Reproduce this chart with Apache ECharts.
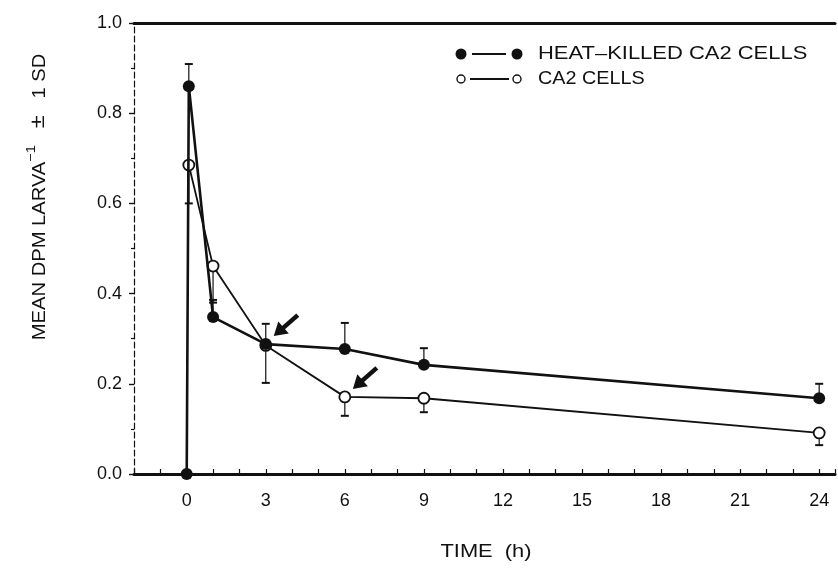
<!DOCTYPE html>
<html>
<head>
<meta charset="utf-8">
<script src="https://cdn.jsdelivr.net/npm/echarts@6/dist/echarts.min.js"></script>
<style>
  html, body { margin: 0; padding: 0; background: #fff; }
  #chart { width: 838px; height: 568px; }
</style>
</head>
<body>
<div id="chart"></div>
<script>
// Sampling times (h) and mean DPM per larva
const heatKilledTimes = [0, 0.08, 1, 3, 6, 9, 24];
const heatKilledMean  = [0, 0.86, 0.348, 0.288, 0.277, 0.242, 0.168];
const heatKilledSd    = [0, 0.049, 0.038, 0.045, 0.058, 0.037, 0.032];

const ca2Times = [0.08, 1, 3, 6, 9, 24];
const ca2Mean  = [0.685, 0.461, 0.285, 0.171, 0.168, 0.091];
const ca2Sd    = [0.085, 0.081, 0.083, 0.042, 0.031, 0.027];

// Points flagged with an arrow: [series, index]
const arrowed = [['heat', 3], ['ca2', 3]];

const yTicks = [0, 0.2, 0.4, 0.6, 0.8, 1.0];
const xLabelStep = 3;

const INK = '#111';
const FONT = '"Liberation Sans", Arial, sans-serif';

const heatData = heatKilledTimes.map((t, i) => [t, heatKilledMean[i]]);
const ca2Data = ca2Times.map((t, i) => [t, ca2Mean[i]]);
const heatErr = heatKilledTimes.map((t, i) => [t, heatKilledMean[i], heatKilledSd[i]]);
const ca2Err = ca2Times.map((t, i) => [t, ca2Mean[i], ca2Sd[i]]);
const arrowData = arrowed.map(([s, i]) => s === 'heat' ? [heatKilledTimes[i], heatKilledMean[i]] : [ca2Times[i], ca2Mean[i]]);

// SD bar drawn upward (dir = 1) or downward (dir = -1) with a short cap
function errorBar(dir) {
  return function (params, api) {
    const x = api.value(0), y = api.value(1), sd = api.value(2);
    if (!sd) return null;
    const p = api.coord([x, y]);
    const q = api.coord([x, y + dir * sd]);
    const cap = 4;
    return {
      type: 'group',
      children: [
        { type: 'line', shape: { x1: p[0], y1: p[1], x2: q[0], y2: q[1] }, style: { stroke: INK, lineWidth: 1.2 } },
        { type: 'line', shape: { x1: q[0] - cap, y1: q[1], x2: q[0] + cap, y2: q[1] }, style: { stroke: INK, lineWidth: 2 } }
      ]
    };
  };
}

// Bold arrow pointing down-left at a data point
function arrowMark(params, api) {
  const p = api.coord([api.value(0), api.value(1)]);
  const head = [p[0] + 8, p[1] - 8];
  const tail = [p[0] + 32, p[1] - 29];
  let dx = head[0] - tail[0], dy = head[1] - tail[1];
  const len = Math.hypot(dx, dy); dx /= len; dy /= len;
  const hl = 13, hw = 8;
  const base = [head[0] - dx * hl, head[1] - dy * hl];
  const nx = -dy, ny = dx;
  return {
    type: 'group',
    children: [
      { type: 'line', shape: { x1: tail[0], y1: tail[1], x2: base[0] + dx * 2, y2: base[1] + dy * 2 }, style: { stroke: INK, lineWidth: 4.5 } },
      { type: 'polygon', shape: { points: [head, [base[0] + nx * hw, base[1] + ny * hw], [base[0] - nx * hw, base[1] - ny * hw]] }, style: { fill: INK } }
    ]
  };
}

const chart = echarts.init(document.getElementById('chart'), null, { renderer: 'canvas' });

chart.setOption({
  animation: false,
  backgroundColor: '#fff',
  grid: { left: 134, right: 0, top: 23, bottom: 94, containLabel: false },
  xAxis: [
    {
      type: 'value', min: -2, max: 24.6, interval: 1,
      axisLine: { show: true, onZero: false, lineStyle: { color: INK, width: 3 } },
      axisTick: { show: true, inside: true, length: 5, lineStyle: { color: INK, width: 1.2 } },
      axisLabel: {
        color: INK, fontFamily: FONT, fontSize: 18, margin: 18,
        formatter: v => (v >= 0 && Math.abs(v % xLabelStep) < 1e-9) ? String(v) : ''
      },
      splitLine: { show: false }
    },
    {
      type: 'value', position: 'top', min: -2, max: 24.6, interval: 1,
      axisLine: { show: true, onZero: false, lineStyle: { color: INK, width: 3 } },
      axisTick: { show: false }, axisLabel: { show: false }, splitLine: { show: false }
    }
  ],
  yAxis: {
    type: 'value', min: yTicks[0], max: yTicks[yTicks.length - 1], interval: 0.2,
    axisLine: { show: true, onZero: false, lineStyle: { color: INK, width: 1.2, type: [6, 3] } },
    axisTick: { show: true, inside: false, length: 5, lineStyle: { color: INK, width: 1.4 } },
    minorTick: { show: true, splitNumber: 2, length: 3, lineStyle: { color: INK, width: 1.2 } },
    axisLabel: { color: INK, fontFamily: FONT, fontSize: 18, margin: 12, formatter: v => v.toFixed(1) },
    splitLine: { show: false }
  },
  series: [
    {
      name: 'heat-err', type: 'custom', renderItem: errorBar(1), data: heatErr, z: 1,
      encode: { x: 0, y: 1 }, silent: true
    },
    {
      name: 'ca2-err', type: 'custom', renderItem: errorBar(-1), data: ca2Err, z: 1,
      encode: { x: 0, y: 1 }, silent: true
    },
    {
      name: 'CA2 CELLS', type: 'line', data: ca2Data, z: 3,
      symbol: 'circle', symbolSize: 11,
      lineStyle: { color: INK, width: 1.8 },
      itemStyle: { color: '#fff', borderColor: INK, borderWidth: 1.8 }
    },
    {
      name: 'HEAT-KILLED CA2 CELLS', type: 'line', data: heatData, z: 4,
      symbol: 'circle', symbolSize: 12,
      lineStyle: { color: INK, width: 2.6 },
      itemStyle: { color: INK, borderColor: INK, borderWidth: 0 }
    },
    {
      name: 'arrows', type: 'custom', renderItem: arrowMark, data: arrowData, z: 5,
      encode: { x: 0, y: 1 }, silent: true
    }
  ],
  graphic: [
    // legend
    { type: 'circle', shape: { cx: 461, cy: 54, r: 5.5 }, style: { fill: INK } },
    { type: 'line', shape: { x1: 472, y1: 54, x2: 506, y2: 54 }, style: { stroke: INK, lineWidth: 1.8 } },
    { type: 'circle', shape: { cx: 517, cy: 54, r: 5.5 }, style: { fill: INK } },
    { type: 'text', x: 538, y: 54, scaleX: 1.22,
      style: { text: 'HEAT–KILLED CA2 CELLS', fill: INK, font: '18px ' + FONT, textVerticalAlign: 'middle', textAlign: 'left' } },
    { type: 'circle', shape: { cx: 461, cy: 79, r: 4 }, style: { fill: '#fff', stroke: INK, lineWidth: 1.4 } },
    { type: 'line', shape: { x1: 470, y1: 79, x2: 509, y2: 79 }, style: { stroke: INK, lineWidth: 1.8 } },
    { type: 'circle', shape: { cx: 517, cy: 79, r: 4 }, style: { fill: '#fff', stroke: INK, lineWidth: 1.4 } },
    { type: 'text', x: 538, y: 79, scaleX: 1.1,
      style: { text: 'CA2 CELLS', fill: INK, font: '18px ' + FONT, textVerticalAlign: 'middle', textAlign: 'left' } },
    // axis titles
    { type: 'text', x: 486, y: 552, scaleX: 1.15,
      style: { text: 'TIME  (h)', fill: INK, font: '19px ' + FONT, textAlign: 'center', textVerticalAlign: 'middle' } },
    { type: 'text', x: 37, y: 197, rotation: Math.PI / 2, scaleX: 1.12,
      style: {
        text: '{a|MEAN DPM LARVA}{s|−1}{a|   }{b|±}{a|   1 SD}',
        textAlign: 'center', textVerticalAlign: 'middle',
        rich: {
          a: { fontFamily: FONT, fontSize: 18, fill: INK, lineHeight: 24, verticalAlign: 'bottom' },
          b: { fontFamily: FONT, fontSize: 21, fill: INK, lineHeight: 24, verticalAlign: 'bottom' },
          s: { fontFamily: FONT, fontSize: 13, fill: INK, lineHeight: 24, verticalAlign: 'top' }
        }
      } }
  ]
});
</script>
</body>
</html>
